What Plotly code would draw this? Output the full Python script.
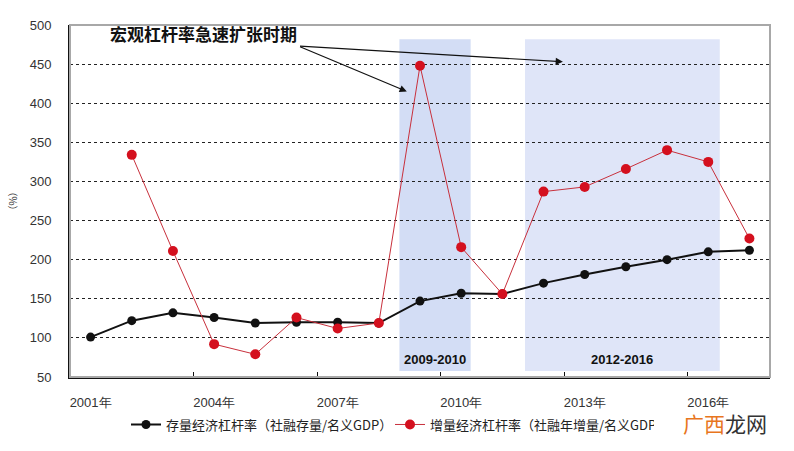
import plotly.graph_objects as go

years = list(range(2001, 2018))
stock_lev = [101, 122, 132, 126, 119, 120, 120, 119, 147, 157, 156, 170, 181, 191, 200, 210, 212]
incr_years = list(range(2002, 2018))
incr_lev = [334, 211, 92, 79, 126, 112, 119, 448, 216, 156, 287, 293, 316, 340, 325, 227]

tick_years = [2001, 2004, 2007, 2010, 2013, 2016]
tick_text = [f"{y}年" for y in tick_years]
boundary_ticks = [2000.5 + 3 * i for i in range(6)]
y_ticks = list(range(50, 501, 50))

bands = [
    dict(x0=2008.5, x1=2010.23, label="2009-2010", color="#d3ddf5"),
    dict(x0=2011.55, x1=2016.28, label="2012-2016", color="#dfe5f8"),
]
band_y = [57.6, 481.8]
band_label_y = 73

title_text = "宏观杠杆率急速扩张时期"
arrow_tail = (2006.05, 473)
arrow_heads = [(2008.68, 415), (2012.47, 453)]

fig = go.Figure()

for b in bands:
    fig.add_shape(type="rect", xref="x", yref="y", x0=b["x0"], x1=b["x1"],
                  y0=band_y[0], y1=band_y[1], fillcolor=b["color"],
                  line=dict(width=0), layer="below")
    fig.add_annotation(x=(b["x0"] + b["x1"]) / 2, y=band_label_y, text=f"<b>{b['label']}</b>",
                       showarrow=False, font=dict(family="Liberation Sans, Arial", size=13, color="#111"))

fig.add_trace(go.Scatter(
    x=years, y=stock_lev, mode="lines+markers",
    name="存量经济杠杆率（社融存量/名义GDP）",
    line=dict(color="#111111", width=2),
    marker=dict(color="#111111", size=9, symbol="circle"),
))
fig.add_trace(go.Scatter(
    x=incr_years, y=incr_lev, mode="lines+markers",
    name="增量经济杠杆率（社融年增量/名义GDP年增量）",
    line=dict(color="#c8303c", width=1),
    marker=dict(color="#d4101e", size=10, symbol="circle"),
))

# annotation with arrows
fig.add_annotation(x=arrow_tail[0], y=arrow_tail[1], text=f"<b>{title_text}</b>",
                   showarrow=False, xanchor="right", yanchor="bottom", yshift=-2,
                   font=dict(family="Noto Sans CJK SC", size=17, color="#111"))
for hx, hy in arrow_heads:
    fig.add_annotation(x=hx, y=hy, ax=arrow_tail[0], ay=arrow_tail[1],
                       xref="x", yref="y", axref="x", ayref="y", text="",
                       showarrow=True, arrowhead=2, arrowsize=1.2, arrowwidth=1.2,
                       arrowcolor="#111")

# watermark
fig.add_annotation(xref="paper", yref="paper", x=0.936, y=-0.13, xanchor="center", yanchor="middle",
                   text="<span style='color:#e8761e'>广西</span><span style='color:#333'>龙网</span>",
                   showarrow=False, bgcolor="rgba(255,255,255,0.85)", borderpad=0,
                   font=dict(family="Noto Sans CJK SC", size=21))

# gray border top/right
fig.add_shape(type="rect", xref="paper", yref="paper", x0=0, x1=1, y0=0, y1=1,
              line=dict(color="#a8a8a8", width=2), layer="above")

fig.update_layout(
    width=794, height=451,
    margin=dict(l=70, r=24, t=25, b=71),
    paper_bgcolor="white", plot_bgcolor="white",
    showlegend=True,
    legend=dict(orientation="h", x=0.08, y=-0.135, xanchor="left", yanchor="middle",
                font=dict(family="Noto Sans CJK SC", size=13, color="#222"),
                entrywidth=219, entrywidthmode="pixels", itemwidth=30,
                bgcolor="rgba(0,0,0,0)"),
    xaxis=dict(range=[2000.5, 2017.5], tickmode="array", tickvals=tick_years, ticktext=tick_text,
               ticks="", showgrid=False, showline=True, linecolor="#111", linewidth=2,
               ticklabelstandoff=12, automargin=False,
               tickfont=dict(family="Liberation Sans, Arial", size=13, color="#333"),
               minor=dict(tickmode="array", tickvals=boundary_ticks, ticks="inside",
                          ticklen=5, tickcolor="#111", showgrid=False),
               zeroline=False),
    yaxis=dict(range=[50, 500], tickmode="array", tickvals=y_ticks, ticks="",
               showgrid=True, gridcolor="#222", griddash="3px,3px", gridwidth=1,
               showline=True, linecolor="#111", linewidth=2, zeroline=False,
               ticklabelstandoff=14, automargin=False,
               tickfont=dict(family="Liberation Sans, Arial", size=13, color="#333"),
               title=dict(text="（%）", font=dict(family="Noto Sans CJK SC", size=10, color="#333"),
                          standoff=10)),
)

fig.write_html("out.html")
